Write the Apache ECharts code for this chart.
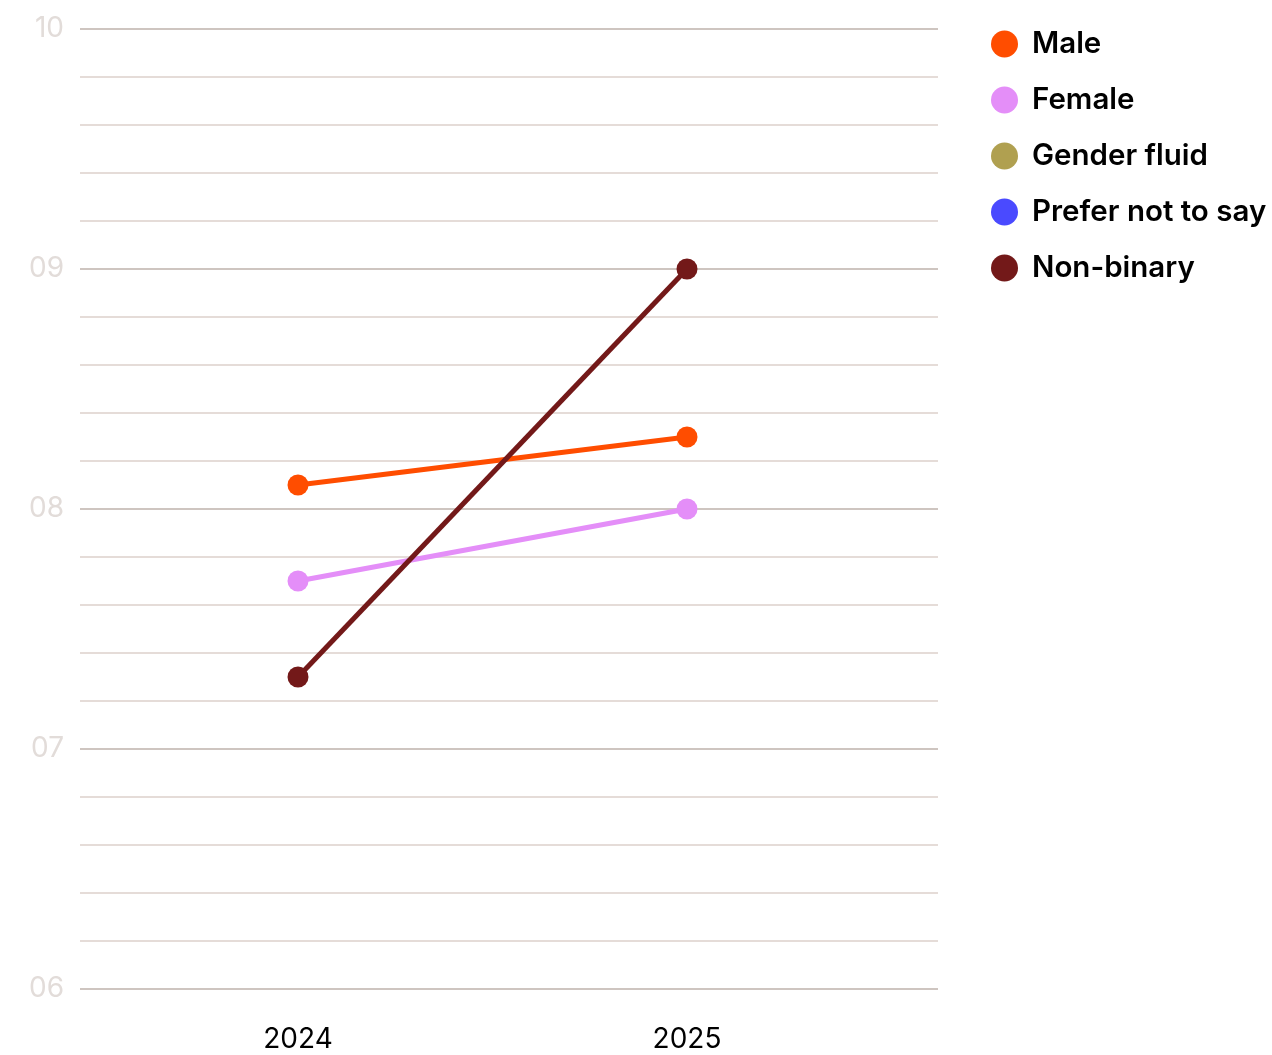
<!DOCTYPE html>
<html>
<head>
<meta charset="utf-8">
<script src="https://cdn.jsdelivr.net/npm/echarts@6/dist/echarts.min.js"></script>
<style>
  html, body { margin: 0; padding: 0; background: #fff; }
  #chart { width: 1272px; height: 1055px; }
</style>
</head>
<body>
<div id="chart"></div>
<script>
// Survey years on the horizontal axis
const years = ['2024', '2025'];

// Average score per gender group, one value per year
const male = [8.1, 8.3];
const female = [7.7, 8.0];
const genderFluid = [null, null];
const preferNotToSay = [null, null];
const nonBinary = [7.3, 9.0];

const seriesNames = ['Male', 'Female', 'Gender fluid', 'Prefer not to say', 'Non-binary'];
const seriesValues = [male, female, genderFluid, preferNotToSay, nonBinary];
const seriesColors = ['#ff4d00', '#e48ef8', '#b0a050', '#4a4aff', '#731919'];

const FONT = 'Inter, "Noto Sans", sans-serif';

const chart = echarts.init(document.getElementById('chart'), null, { renderer: 'canvas' });

chart.setOption({
  animation: false,
  backgroundColor: '#ffffff',
  grid: [
    // full-width frame that carries the value axis and its grid lines
    { left: 80, right: 334, top: 29, bottom: 66, containLabel: false },
    // inner frame where the two years sit
    { left: 298, right: 585, top: 29, bottom: 66, containLabel: false }
  ],
  legend: {
    orient: 'vertical',
    left: 991,
    top: 29,
    padding: 0,
    icon: 'circle',
    itemWidth: 27,
    itemHeight: 27,
    itemGap: 26,
    data: seriesNames,
    textStyle: { fontFamily: FONT, fontSize: 29.5, fontWeight: 600, color: '#000000', padding: [0, 0, 0, 9] }
  },
  xAxis: [
    { type: 'category', gridIndex: 0, data: [], show: false },
    {
      type: 'category',
      gridIndex: 1,
      data: years,
      boundaryGap: false,
      axisLine: { show: false },
      axisTick: { show: false },
      axisLabel: { fontFamily: FONT, fontSize: 28, color: '#000000', margin: 37 }
    }
  ],
  yAxis: [
    {
      type: 'value',
      gridIndex: 0,
      min: 6,
      max: 10,
      interval: 1,
      axisLine: { show: false },
      axisTick: { show: false },
      axisLabel: {
        fontFamily: FONT,
        fontSize: 28,
        color: '#e2dcd9',
        margin: 16,
        padding: [6, 0, 0, 0],
        formatter: v => String(v).padStart(2, '0')
      },
      splitLine: { show: true, lineStyle: { color: '#cec5c0', width: 2 } },
      minorTick: { show: false, splitNumber: 5 },
      minorSplitLine: { show: true, lineStyle: { color: '#e5dcd8', width: 2 } }
    },
    { type: 'value', gridIndex: 1, min: 6, max: 10, show: false, splitLine: { show: false } }
  ],
  series: seriesNames.map((name, i) => ({
    name,
    type: 'line',
    xAxisIndex: 1,
    yAxisIndex: 1,
    data: seriesValues[i],
    color: seriesColors[i],
    symbol: 'circle',
    symbolSize: 21,
    lineStyle: { width: 5 },
    itemStyle: { color: seriesColors[i] },
    emphasis: { disabled: true }
  }))
});
</script>
</body>
</html>
